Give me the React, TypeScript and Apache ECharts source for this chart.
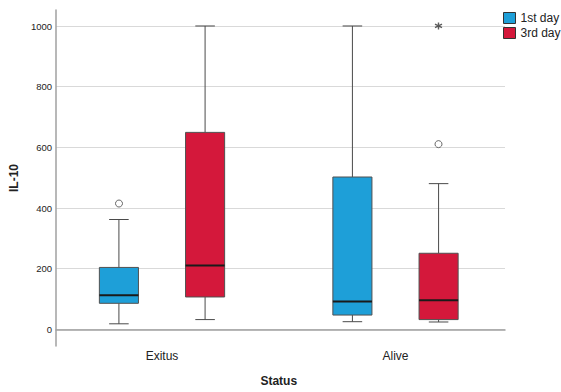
import React, { useEffect, useRef } from "react";
import * as echarts from "echarts";

// ---- data ----
const categories = ["Exitus", "Alive"];
const seriesNames = ["1st day", "3rd day"];
// [min, Q1, median, Q3, max] per category
const day1Box = [
  [12, 80, 107, 199, 358],
  [19, 41, 86, 499, 1000],
];
const day3Box = [
  [26, 101, 205, 647, 1000],
  [18, 26, 90, 246, 477],
];
// outliers: [categoryIndex, value]
const day1Outliers = [[0, 411]];
const day3Outliers = [[1, 608]];
const day3Extremes = [[1, 1000]];
const yTicks = [0, 200, 400, 600, 800, 1000];

const BLUE = "#1e9fd8";
const RED = "#d4183b";
const FONT = "Liberation Sans, Arial, sans-serif";

const OFFSET_FRAC = 43 / 233;
const BOX_FRAC = 39 / 233;

function makeRender(sign: number) {
  return (params: any, api: any) => {
    const idx = api.value(0);
    const band = api.size([1, 0])[0];
    const bw = band * BOX_FRAC;
    const cx = api.coord([idx, 0])[0] + sign * band * OFFSET_FRAC;
    const y = (i: number) => api.coord([idx, api.value(i)])[1];
    const yMin = y(1), yQ1 = y(2), yMed = y(3), yQ3 = y(4), yMax = y(5);
    const half = bw / 2;
    const capHalf = bw / 4;
    const lineStyle = { stroke: "#4a4a4a", lineWidth: 1 };
    const color = api.visual("color");
    return {
      type: "group",
      children: [
        { type: "line", shape: { x1: cx, y1: yQ3, x2: cx, y2: yMax }, style: lineStyle },
        { type: "line", shape: { x1: cx, y1: yQ1, x2: cx, y2: yMin }, style: lineStyle },
        { type: "line", shape: { x1: cx - capHalf, y1: yMax, x2: cx + capHalf, y2: yMax }, style: lineStyle },
        { type: "line", shape: { x1: cx - capHalf, y1: yMin, x2: cx + capHalf, y2: yMin }, style: lineStyle },
        {
          type: "rect",
          shape: { x: cx - half, y: yQ3, width: bw, height: yQ1 - yQ3 },
          style: { fill: color, stroke: "#505050", lineWidth: 1 },
        },
        {
          type: "line",
          shape: { x1: cx - half, y1: yMed, x2: cx + half, y2: yMed },
          style: { stroke: "#1a1a1a", lineWidth: 2 },
        },
      ],
    };
  };
}

export default function App() {
  const ref = useRef<HTMLDivElement>(null);
  useEffect(() => {
    if (!ref.current) return;
    const chart = echarts.init(ref.current, undefined, { renderer: "svg" });
    const yMin = -55;
    const yMax = 1053;
    const gridPos = { top: 10, bottom: 46 };
    chart.setOption({
      animation: false,
      backgroundColor: "#ffffff",
      textStyle: { fontFamily: FONT },
      grid: [
        { left: 53, right: 56, ...gridPos },
        { left: 45.25, right: 48.75, ...gridPos },
      ],
      legend: {
        orient: "vertical",
        left: 503,
        top: 12,
        padding: 0,
        itemWidth: 12,
        itemHeight: 11,
        itemGap: 3,
        icon: "rect",
        textStyle: { fontSize: 12, color: "#222", fontFamily: FONT },
        data: [
          { name: seriesNames[0], itemStyle: { color: BLUE, borderColor: "#333", borderWidth: 1 } },
          { name: seriesNames[1], itemStyle: { color: RED, borderColor: "#333", borderWidth: 1 } },
        ],
      },
      xAxis: [
        {
          gridIndex: 0,
          type: "category",
          data: categories,
          axisLine: { show: true, lineStyle: { color: "#a0a0a0", width: 1.5 } },
          axisTick: { show: false },
          axisLabel: { show: false },
          splitLine: { show: false },
        },
        {
          gridIndex: 1,
          type: "category",
          data: categories,
          axisLine: { show: false },
          axisTick: { show: false },
          axisLabel: { show: true, fontSize: 12, color: "#222", margin: 6, fontFamily: FONT },
          splitLine: { show: false },
          name: "Status",
          nameLocation: "middle",
          nameGap: 31,
          nameTextStyle: { fontSize: 12, fontWeight: "bold", color: "#222", fontFamily: FONT },
        },
      ],
      yAxis: [
        {
          gridIndex: 0,
          type: "value",
          min: yMin,
          max: yMax,
          axisLine: { show: true, lineStyle: { color: "#a0a0a0", width: 1.5 } },
          axisTick: { show: false, customValues: yTicks },
          axisLabel: {
            show: true,
            customValues: yTicks,
            formatter: (v: number) => String(v),
            fontSize: 9.5,
            color: "#222",
            margin: 4,
            fontFamily: FONT,
          },
          splitLine: { show: true, lineStyle: { color: "#d9d9d9", width: 1 } },
          name: "IL-10",
          nameLocation: "middle",
          nameGap: 27,
          nameTextStyle: { fontSize: 12, fontWeight: "bold", color: "#222", fontFamily: FONT },
        },
        {
          gridIndex: 1,
          type: "value",
          min: yMin,
          max: yMax,
          show: false,
          splitLine: { show: false },
        },
      ],
      series: [
        {
          name: seriesNames[0],
          type: "custom",
          xAxisIndex: 1,
          yAxisIndex: 1,
          itemStyle: { color: BLUE },
          encode: { x: 0, y: [1, 2, 3, 4, 5] },
          data: day1Box.map((b, i) => [i, ...b]),
          renderItem: makeRender(-1),
          z: 3,
        },
        {
          name: seriesNames[1],
          type: "custom",
          xAxisIndex: 1,
          yAxisIndex: 1,
          itemStyle: { color: RED },
          encode: { x: 0, y: [1, 2, 3, 4, 5] },
          data: day3Box.map((b, i) => [i, ...b]),
          renderItem: makeRender(1),
          z: 3,
        },
        {
          name: "1st day outliers",
          type: "scatter",
          xAxisIndex: 1,
          yAxisIndex: 1,
          symbol: "circle",
          symbolSize: 7,
          symbolOffset: [-43, 0],
          itemStyle: { color: "#ffffff", borderColor: "#444", borderWidth: 1 },
          data: day1Outliers,
          z: 4,
        },
        {
          name: "3rd day outliers",
          type: "scatter",
          xAxisIndex: 1,
          yAxisIndex: 1,
          symbol: "circle",
          symbolSize: 7,
          symbolOffset: [43, 0],
          itemStyle: { color: "#ffffff", borderColor: "#444", borderWidth: 1 },
          data: day3Outliers,
          z: 4,
        },
        {
          name: "3rd day extremes",
          type: "scatter",
          xAxisIndex: 1,
          yAxisIndex: 1,
          symbol: "path://M5,0L5,10M0.67,2.5L9.33,7.5M0.67,7.5L9.33,2.5",
          symbolSize: 7,
          symbolOffset: [43, 0],
          itemStyle: { color: "none", borderColor: "#333", borderWidth: 1.4 },
          data: day3Extremes,
          z: 4,
        },
      ],
    });
    return () => chart.dispose();
  }, []);
  return (
    <div
      ref={ref}
      style={{ position: "fixed", left: 0, top: 0, width: 561, height: 392, background: "#fff" }}
    />
  );
}
